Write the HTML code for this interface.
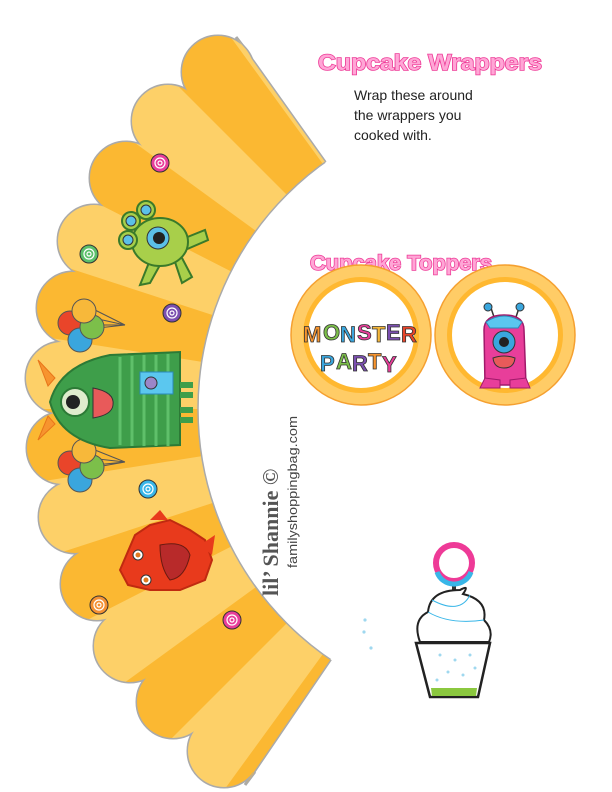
<!DOCTYPE html>
<html><head><meta charset="utf-8"><style>
html,body{margin:0;padding:0;background:#fff;width:612px;height:792px;overflow:hidden}
svg{display:block}
</style></head><body>
<svg width="612" height="792" viewBox="0 0 612 792" xmlns="http://www.w3.org/2000/svg">
<defs>
<mask id="wr" maskUnits="userSpaceOnUse" x="0" y="0" width="612" height="792">
<rect x="0" y="0" width="612" height="792" fill="#000"/>
<g fill="#fff">
<path d="M501 409 L236 37 L246 50 A440 440 0 0 0 254 773 L245 785 Z"/>
<circle cx="218" cy="72" r="36"/><circle cx="168" cy="121" r="36"/><circle cx="126" cy="178" r="36"/>
<circle cx="94" cy="241" r="36"/><circle cx="73" cy="308" r="36"/><circle cx="62" cy="378" r="36"/>
<circle cx="63" cy="448" r="36"/><circle cx="75" cy="517" r="36"/><circle cx="97" cy="584" r="36"/>
<circle cx="130" cy="646" r="36"/><circle cx="173" cy="702" r="36"/><circle cx="224" cy="751" r="36"/>
</g>
</mask>
<clipPath id="sec"><path d="M501 409 L236 37 L246 50 A440 440 0 0 0 254 773 L245 785 Z"/></clipPath>
</defs>
<!-- outline -->
<g fill="#aaa" stroke="#aaa" stroke-width="3">
<path d="M501 409 L236 37 L246 50 A440 440 0 0 0 254 773 L245 785 Z"/>
<circle cx="218" cy="72" r="36"/><circle cx="168" cy="121" r="36"/><circle cx="126" cy="178" r="36"/>
<circle cx="94" cy="241" r="36"/><circle cx="73" cy="308" r="36"/><circle cx="62" cy="378" r="36"/>
<circle cx="63" cy="448" r="36"/><circle cx="75" cy="517" r="36"/><circle cx="97" cy="584" r="36"/>
<circle cx="130" cy="646" r="36"/><circle cx="173" cy="702" r="36"/><circle cx="224" cy="751" r="36"/>
</g>
<g mask="url(#wr)">
<rect x="0" y="0" width="612" height="792" fill="#fbb832"/>
<g fill="#fdd068">
<path d="M501 409 L265 -54 L195 -12 Z"/>
<path d="M501 409 L133 41 L80 103 Z"/>
<path d="M501 409 L38 173 L7 248 Z"/>
<path d="M501 409 L-13 328 L-19 409 Z"/>
<path d="M501 409 L-13 490 L7 570 Z"/>
<path d="M501 409 L38 645 L80 715 Z"/>
<path d="M501 409 L133 777 L195 830 Z"/>
</g>
</g>
<circle cx="501" cy="409" r="303" fill="#fff"/>
<circle cx="501" cy="409" r="303" fill="none" stroke="#aaa" stroke-width="1.5" clip-path="url(#sec)"/>
<path d="M300 120 L318 118 L325 135 Z" fill="#fff"/>

<!-- candies -->
<g stroke="#333" stroke-width="1">
<circle cx="160" cy="163" r="9" fill="#e83e9a"/><circle cx="89" cy="254" r="9" fill="#5cbf6a"/>
<circle cx="172" cy="313" r="9" fill="#7b4fb0"/><circle cx="148" cy="489" r="9" fill="#38b6e8"/>
<circle cx="99" cy="605" r="9" fill="#f39033"/><circle cx="232" cy="620" r="9" fill="#e83e9a"/>
</g>
<g fill="none" stroke="#fff" stroke-width="1.2">
<circle cx="160" cy="163" r="5"/><circle cx="89" cy="254" r="5"/><circle cx="172" cy="313" r="5"/>
<circle cx="148" cy="489" r="5"/><circle cx="99" cy="605" r="5"/><circle cx="232" cy="620" r="5"/>
<circle cx="160" cy="163" r="2"/><circle cx="89" cy="254" r="2"/><circle cx="172" cy="313" r="2"/>
<circle cx="148" cy="489" r="2"/><circle cx="99" cy="605" r="2"/><circle cx="232" cy="620" r="2"/>
</g>

<!-- green lime monster -->
<g stroke="#3a7a2a" stroke-width="2" fill="#a8cf4a">
<path d="M150 260 L140 285 L150 283 L160 265 M175 262 L182 283 L192 277 L182 258 M180 240 L205 230 L208 240 L185 250" />
<ellipse cx="160" cy="242" rx="28" ry="24"/>
<circle cx="146" cy="210" r="9"/><circle cx="131" cy="221" r="9"/><circle cx="128" cy="240" r="9"/>
</g>
<g fill="#5bc0e8" stroke="#333" stroke-width="1">
<circle cx="158" cy="238" r="11"/><circle cx="146" cy="210" r="5"/><circle cx="131" cy="221" r="5"/><circle cx="128" cy="240" r="5"/>
</g>
<circle cx="159" cy="238" r="6" fill="#222"/>

<!-- balloons -->
<g stroke="#555" stroke-width="1">
<path d="M80 315 L125 325 M85 305 L125 325 M95 325 L125 325 M80 330 L125 325" fill="none"/>
<circle cx="70" cy="323" r="12" fill="#e9452a"/><circle cx="80" cy="340" r="12" fill="#3aa6dd"/>
<circle cx="92" cy="327" r="12" fill="#7cbf4a"/><circle cx="84" cy="311" r="12" fill="#f7b83a"/>
<path d="M80 457 L125 462 M85 446 L125 462 M95 465 L125 462 M80 470 L125 462" fill="none"/>
<circle cx="70" cy="463" r="12" fill="#e9452a"/><circle cx="80" cy="480" r="12" fill="#3aa6dd"/>
<circle cx="92" cy="467" r="12" fill="#7cbf4a"/><circle cx="84" cy="451" r="12" fill="#f7b83a"/>
</g>

<!-- big green monster -->
<path d="M38 360 L55 378 L48 386 Z M38 440 L55 424 L48 416 Z" fill="#f7942e" stroke="#e8751a"/>
<path d="M50 402 Q60 365 110 355 L180 352 L180 445 L110 448 Q60 440 50 402 Z" fill="#3e9e4a" stroke="#2c7a36" stroke-width="2"/>
<g stroke="#5fc06a" stroke-width="3">
<line x1="120" y1="357" x2="120" y2="445"/><line x1="132" y1="356" x2="132" y2="446"/><line x1="144" y1="355" x2="144" y2="446"/>
<line x1="156" y1="355" x2="156" y2="446"/><line x1="168" y1="354" x2="168" y2="446"/>
</g>
<path d="M180 385 L193 385 M180 395 L193 395 M180 410 L193 410 M180 420 L193 420" stroke="#3e9e4a" stroke-width="6"/>
<circle cx="75" cy="402" r="14" fill="#dfeccd" stroke="#2c7a36" stroke-width="2"/>
<circle cx="73" cy="402" r="7" fill="#222"/>
<path d="M93 388 Q115 392 113 405 Q112 415 93 418 Z" fill="#e85a5a" stroke="#333"/>
<rect x="140" y="372" width="33" height="22" fill="#5bc7ef" stroke="#2a8ab8"/>
<circle cx="151" cy="383" r="6" fill="#9b86c8" stroke="#333"/>

<!-- red monster -->
<path d="M120 570 L135 535 L150 525 L170 520 L190 530 L205 540 L212 560 L205 580 L180 590 L150 590 L128 585 Z" fill="#e83a1c" stroke="#c02a10" stroke-width="2"/>
<path d="M200 545 L215 535 L212 555 Z M150 520 L160 510 L168 520 Z" fill="#e83a1c"/>
<path d="M160 545 Q185 540 190 555 Q185 578 170 580 Q160 568 160 545 Z" fill="#b82a2a" stroke="#6a1a10"/>
<circle cx="138" cy="555" r="5" fill="#fff" stroke="#333"/><circle cx="146" cy="580" r="5" fill="#fff" stroke="#333"/>
<circle cx="138" cy="555" r="2.5" fill="#e07a20"/><circle cx="146" cy="580" r="2.5" fill="#e07a20"/>

<!-- credit -->
<text transform="translate(278,596) rotate(-90)" font-family="Liberation Serif, serif" font-weight="bold" font-size="22" fill="#555">lil’ Shannie ©</text>
<text transform="translate(297,568) rotate(-90)" font-family="Liberation Sans, sans-serif" font-size="13" fill="#444" textLength="152" lengthAdjust="spacingAndGlyphs">familyshoppingbag.com</text>

<!-- titles -->
<g font-family="Liberation Sans, sans-serif" font-weight="bold" fill="#ffa6d6" stroke="#ee3a97" stroke-width="1.5" paint-order="stroke">
<text x="318" y="70" font-size="22" textLength="224" lengthAdjust="spacingAndGlyphs">Cupcake Wrappers</text>
<text x="310" y="270" font-size="21" textLength="182" lengthAdjust="spacingAndGlyphs">Cupcake Toppers</text>
</g>
<g font-family="Liberation Sans, sans-serif" font-size="14" fill="#222">
<text x="354" y="100">Wrap these around</text>
<text x="354" y="120">the wrappers you</text>
<text x="354" y="140">cooked with.</text>
</g>

<!-- toppers -->
<g>
<circle cx="361" cy="335" r="70" fill="#ffcc66" stroke="#f5a030" stroke-width="1.5"/>
<circle cx="361" cy="335" r="58" fill="#ffb830"/>
<circle cx="361" cy="335" r="53" fill="#fff"/>
<circle cx="505" cy="335" r="70" fill="#ffcc66" stroke="#f5a030" stroke-width="1.5"/>
<circle cx="505" cy="335" r="58" fill="#ffb830"/>
<circle cx="505" cy="335" r="53" fill="#fff"/>
<g font-family="Liberation Sans, sans-serif" font-weight="bold" font-size="22" stroke="#333" stroke-width="0.8">
<text x="303" y="342" fill="#f7942e">M</text><text x="323" y="340" fill="#7cbf4a">O</text><text x="340" y="342" fill="#3aa6dd">N</text>
<text x="357" y="340" fill="#e83e9a">S</text><text x="372" y="342" fill="#f7b83a">T</text><text x="386" y="340" fill="#7b4fb0">E</text><text x="401" y="342" fill="#e9452a">R</text>
<text x="320" y="371" fill="#3aa6dd">P</text><text x="336" y="369" fill="#7cbf4a">A</text><text x="352" y="371" fill="#7b4fb0">R</text>
<text x="368" y="369" fill="#f7942e">T</text><text x="382" y="372" fill="#e83e9a">Y</text>
</g>
<!-- pink monster -->
<path d="M495 320 L490 305 M515 320 L520 305" stroke="#333" stroke-width="1.5"/>
<circle cx="488" cy="307" r="4" fill="#3aa6dd" stroke="#333"/><circle cx="520" cy="307" r="4" fill="#3aa6dd" stroke="#333"/>
<path d="M484 330 Q484 315 504 315 Q524 315 524 330 L526 385 L485 385 Z" fill="#e83e9a" stroke="#a01a6a" stroke-width="1.5"/>
<path d="M480 388 L500 388 L500 380 L485 378 Z M510 388 L530 388 L526 378 L510 380 Z" fill="#e83e9a" stroke="#a01a6a"/>
<path d="M486 322 Q504 310 522 322 L518 328 L490 328 Z" fill="#5bc7ef" stroke="#2a8ab8"/>
<circle cx="504" cy="342" r="11" fill="#3aa6dd" stroke="#333"/><circle cx="504" cy="342" r="5" fill="#222"/>
<path d="M493 358 Q504 354 515 358 Q514 368 504 368 Q494 368 493 358 Z" fill="#e85a5a" stroke="#333"/>
</g>

<!-- cupcake -->
<g>
<circle cx="365" cy="620" r="1.6" fill="#9fd8ef"/><circle cx="364" cy="632" r="1.6" fill="#9fd8ef"/><circle cx="371" cy="648" r="1.6" fill="#9fd8ef"/>
<rect x="452" y="586" width="4" height="22" fill="#333"/>
<circle cx="454" cy="563" r="18" fill="none" stroke="#ee3a97" stroke-width="6"/>
<path d="M437 572 A18 18 0 0 0 471 572" fill="none" stroke="#38b6e8" stroke-width="5"/>
<path d="M420 642 Q412 620 428 612 Q430 590 460 590 Q470 584 463 594 Q488 600 484 620 Q494 630 489 642 Z" fill="#fff" stroke="#222" stroke-width="2"/>
<path d="M428 612 Q450 625 484 620 M432 600 Q460 615 470 595" fill="none" stroke="#38b6e8" stroke-width="1"/>
<path d="M416 643 L490 643 L478 697 L430 697 Z" fill="#fff" stroke="#222" stroke-width="2.5"/>
<path d="M431 688 L477 688 L476 696 L432 696 Z" fill="#8bc83f"/>
<g fill="#9fd8ef"><circle cx="440" cy="655" r="1.5"/><circle cx="455" cy="660" r="1.5"/><circle cx="470" cy="655" r="1.5"/><circle cx="448" cy="672" r="1.5"/><circle cx="463" cy="675" r="1.5"/><circle cx="475" cy="668" r="1.5"/><circle cx="437" cy="680" r="1.5"/></g>
</g>
</svg>
</body></html>
